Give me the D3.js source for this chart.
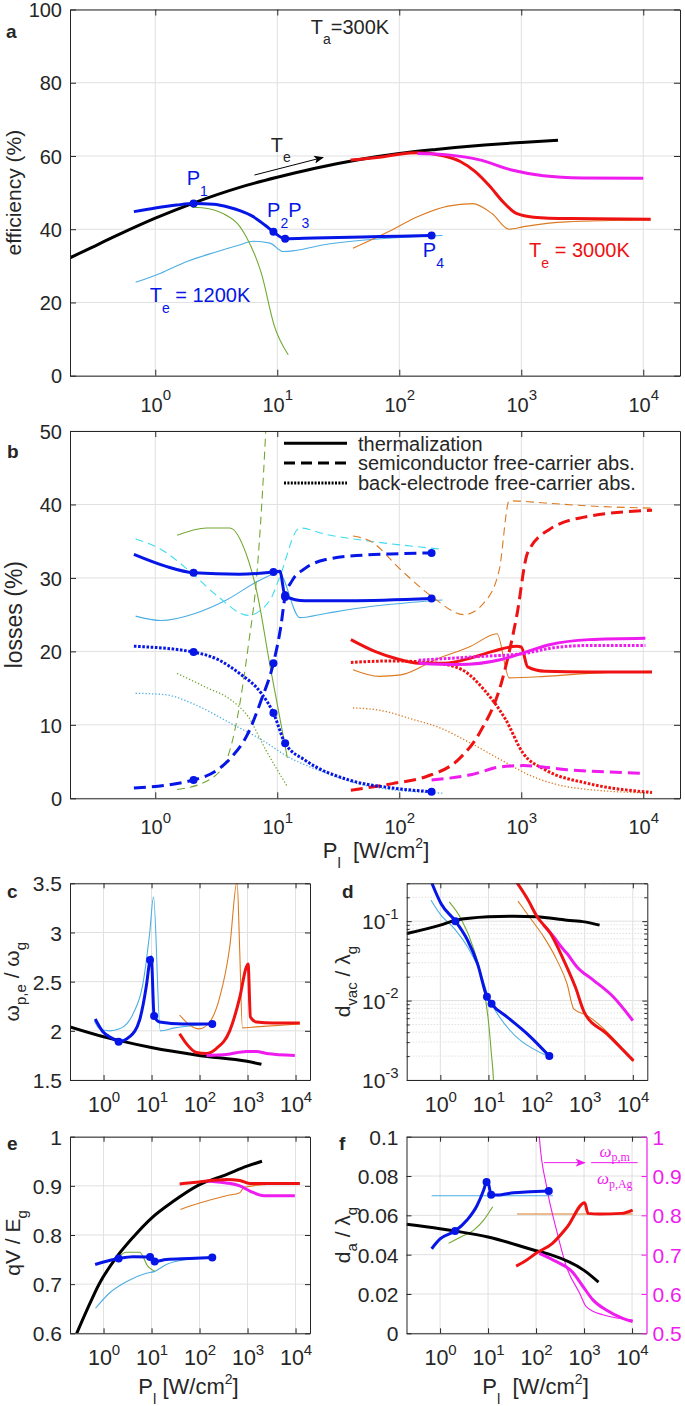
<!DOCTYPE html>
<html><head><meta charset="utf-8">
<script src="https://cdnjs.cloudflare.com/ajax/libs/d3/7.8.5/d3.min.js"></script>
<style>
body{margin:0;background:#fff;}
svg{display:block;}
</style></head><body>
<svg id="chart" width="685" height="1406"></svg>
<script>
// ================= DATA =================
const xDomain = [0.2, 20000];
const xTickVals = [1, 10, 100, 1000, 10000];
const xTickExps = ['0', '1', '2', '3', '4'];
const aYTicks = [0, 20, 40, 60, 80, 100];
const bYTicks = [0, 10, 20, 30, 40, 50];
const cYTicks = [1.5, 2, 2.5, 3, 3.5];
const dYTicks = [0.001, 0.01, 0.1];
const dYExps = ['-3', '-2', '-1'];
const eYTicks = [0.6, 0.7, 0.8, 0.9, 1];
const fYTicks = [0, 0.02, 0.04, 0.06, 0.08, 0.1];
const fY2Ticks = [0.5, 0.6, 0.7, 0.8, 0.9, 1];

// panel a : efficiency (%)
const a_black = [[0.2,32.2],[0.3,35],[0.5,38.5],[1,43],[2,47],[5,51.5],[10,54.2],[20,56.6],[50,59.2],[100,60.7],[200,61.8],[500,63],[1000,63.7],[2000,64.3]];
const a_blue = [[0.668,44.8],[1,45.8],[1.5,46.6],[2.06,47],[3,46.8],[4,46],[5,45],[6.3,43.5],[8,41],[9.3,39.3],[11.6,37.4],[20,37.6],[50,37.9],[100,38.1],[184,38.3]];
const a_blueMk = [[2.06,47],[9.3,39.3],[11.6,37.4],[184,38.3]];
const a_lightblue = [[0.69,25.5],[1.11,28],[1.82,31.2],[3.24,33.9],[4.9,35.7],[6.3,36.7],[8.7,36.2],[11.2,33.9],[14.1,34.2],[23.4,35.7],[58.9,37.2],[226,38.3]];
const a_green = [[2.0,46],[2.75,45.6],[4.0,43.4],[4.7,41.6],[5.55,38],[7.4,28],[9.5,13.4],[12.3,5.7]];
const a_red = [[40,58.9],[74,59.8],[100,60.5],[141,60.9],[234,60],[316,58.5],[417,55.8],[550,51.8],[708,47.5],[912,44.3],[1259,43.3],[2512,42.9],[11500,42.7]];
const a_magenta = [[141,60.7],[251,60.3],[447,59],[851,56.1],[1514,54.6],[3160,54],[10000,53.9]];
const a_orange = [[41.7,34.8],[87,39.8],[141,43.4],[251,46.3],[398,47],[575,44.3],[794,40],[1047,40.7],[2344,42],[11500,42.5]];

// panel b : losses (%)
const b_blueTherm = [[0.668,33.2],[1.21,31.6],[2.06,30.7],[4.9,30.5],[9.3,30.8],[10.5,30.9],[11.6,27.5],[16.9,26.9],[38.5,26.9],[184,27.2]];
const b_blueSemi = [[0.668,1.4],[2.06,2.5],[3.25,3.9],[4.16,5.5],[5.78,8.9],[7.4,13.4],[9.3,18.4],[10.7,23.4],[11.6,27.5],[13.2,29.6],[16.9,31.3],[25,32.5],[50,33.1],[100,33.3],[184,33.4]];
const b_blueBack = [[0.668,20.7],[2.06,19.9],[3.25,18.9],[4.9,17],[7.4,14.3],[9.3,11.6],[11.6,7.5],[16.9,5.2],[38.5,2.5],[87.7,1.4],[184,0.9]];
const b_blueMk = [[2.06,30.7],[9.3,30.8],[11.6,27.4],[184,27.2],[2.06,2.5],[9.3,18.4],[11.6,27.6],[184,33.4],[2.06,19.9],[9.3,11.6],[11.6,7.5],[184,0.9]];
const b_lbTherm = [[0.69,24.8],[1.11,24.2],[2.15,25.2],[3.83,27],[7.4,29.8],[10.3,30.7],[15.3,24.6],[25.5,25.2],[58,26.1],[226,27]];
const b_lbSemi = [[0.69,35.3],[1.11,33.9],[1.98,30.7],[3.25,27.5],[5.78,24.9],[8.73,27],[10.3,29.8],[15.3,36.8],[25.5,35.9],[58,35],[226,33.9]];
const b_lbBack = [[0.69,14.3],[1.21,14.1],[2.15,12.7],[4.16,10.2],[7.4,8],[12.1,5.7],[25.5,3.4],[58,1.6],[226,0.7]];
const b_grTherm = [[1.51,35.8],[2.64,36.8],[4.09,36.8],[5.55,33.3],[6.82,28],[8.73,18],[12.1,5.5]];
const b_grSemi = [[1.51,1.2],[2.75,2.5],[3.83,5.2],[4.71,11],[5.78,20.7],[6.82,30.7],[8.04,50],[8.2,53]];
const b_grBack = [[1.51,17],[2.54,15.2],[4.16,13.4],[5.78,11.1],[8.04,6.6],[12.1,1.6]];
const b_redTherm = [[40.1,21.6],[63,20],[95.3,19],[144,18.4],[236,18.4],[386,19.1],[583,20],[917,20.7],[1000,20.6],[1127,17.9],[1567,17.3],[3572,17.2],[11800,17.2]];
const b_redSemi = [[40.1,1.1],[87.7,2],[169,3],[302,5.2],[455,8.9],[687,15.7],[917,24.8],[1127,33.4],[1701,36.6],[3572,38.4],[11800,39.2]];
const b_redBack = [[40.1,18.5],[87.7,18.7],[200,18.4],[327,17.5],[494,14.8],[746,10.7],[1038,6.1],[1567,3.9],[3572,2],[11800,0.8]];
const b_magTherm = [[144,18.4],[302,18.2],[687,18.9],[1038,19.8],[1701,20.9],[3572,21.6],[10400,21.8]];
const b_magSemi = [[184,2.5],[386,3.2],[687,4.3],[1038,4.45],[2365,3.9],[10400,3.4]];
const b_magBack = [[144,18.8],[455,19.3],[1038,19.7],[1848,20.5],[3572,20.8],[10400,20.8]];
const b_orTherm = [[41.7,17.5],[68.4,16.6],[103,16.8],[200,18.9],[386,20.7],[633,22.4],[797,16.4],[1567,16.6],[3572,17],[11800,17.3]];
const b_orSemi = [[41.7,35.7],[58,35],[103,31.1],[184,27.5],[341,25],[494,26.6],[660,31.1],[797,40.5],[1567,40.2],[3572,39.8],[11800,39.5]];
const b_orBack = [[41.7,12.3],[68.4,12],[132,10.7],[200,9.8],[386,7.5],[687,5.2],[1224,3],[2789,1.4],[11800,0.7]];
const legendLabels = ['thermalization', 'semiconductor free-carrier abs.', 'back-electrode free-carrier abs.'];

// panel c : omega_pe / omega_g
const c_black = [[0.2,2.04],[1,1.94],[2.16,1.9],[9.87,1.83],[97.5,1.75],[977,1.69],[1947,1.66]];
const c_blue = [[0.67,2.12],[0.97,1.99],[1.57,1.92],[2.06,1.89],[3.49,1.94],[5.64,2.11],[7.76,2.45],[9.3,2.72],[9.87,2.75],[11.3,2.15],[14.7,2.09],[45.2,2.07],[184,2.07]];
const c_blueMk = [[2.06,1.89],[9.3,2.72],[11.3,2.15],[184,2.07]];
const c_lightblue = [[0.649,2.1],[0.826,2.02],[1.33,2.0],[2.16,2.02],[4.09,2.17],[6.62,2.48],[9.12,2.99],[11.0,3.36],[15.2,2.0],[30,2.03],[100,2.06],[191,2.07]];
const c_orange = [[38.5,2.16],[62.2,2.06],[97.5,2.02],[163,2.09],[263,2.34],[425,2.85],[605,3.52],[688,2.8],[782,2.03],[1500,2.04],[12300,2.07]];
const c_red = [[38.5,1.97],[53.1,1.87],[85.8,1.78],[139,1.77],[224,1.82],[425,2.0],[688,2.34],[946,2.65],[1026,2.68],[1148,2.14],[1531,2.09],[3410,2.08],[12300,2.08]];
const c_magenta = [[139,1.75],[362,1.76],[946,1.79],[1531,1.79],[2475,1.77],[9660,1.75]];

// panel d : d_vac / lambda_g (log)
const d_black = [[0.2,0.0698],[1,0.0891],[2.11,0.103],[10,0.1135],[33.9,0.1157],[100,0.1135],[430,0.103],[1000,0.098],[2040,0.0891]];
const d_blue = [[0.668,0.3],[1.03,0.167],[2.06,0.1],[3.68,0.0575],[5.92,0.0292],[9.3,0.0112],[11.6,0.0091],[24.6,0.0062],[64,0.00381],[184,0.002]];
const d_blueMk = [[2.06,0.1],[9.3,0.0112],[11.6,0.0091],[184,0.002]];
const d_lightblue = [[0.64,0.184],[1.03,0.119],[1.95,0.0808],[3.68,0.0474],[6.93,0.0218],[9.5,0.0122],[12.1,0.0087],[186,0.00195]];
const d_green = [[1.53,0.175],[2.68,0.108],[5.05,0.043],[8.13,0.0135],[10.3,0.00462],[11.5,0.00214],[12.7,0.001],[13,0.0007]];
const d_red = [[38.5,0.31],[64,0.193],[103,0.1135],[195,0.0698],[368,0.0321],[640,0.0148],[1000,0.00695],[2900,0.00381],[10300,0.00175]];
const d_magenta = [[141,0.089],[228,0.0634],[320,0.048],[430,0.0391],[692,0.0265],[1530,0.018],[3950,0.0111],[10000,0.0056]];
const d_orange = [[41,0.179],[75,0.108],[141,0.0634],[266,0.0321],[430,0.0163],[590,0.00788],[1110,0.0065],[10300,0.00172]];

// panel e : qV / E_g
const e_black = [[0.25,0.59],[0.435,0.644],[0.826,0.702],[1.84,0.754],[4.09,0.795],[9.87,0.834],[27.9,0.868],[97.5,0.902],[362,0.923],[977,0.94],[2000,0.95]];
const e_blue = [[0.668,0.74],[1,0.745],[2.06,0.752],[4.09,0.756],[9.3,0.755],[11.6,0.746],[20.3,0.75],[62,0.752],[184,0.754]];
const e_blueMk = [[2.06,0.752],[9.3,0.755],[11.6,0.746],[184,0.754]];
const e_lightblue = [[0.68,0.651],[1.33,0.682],[2.97,0.705],[7.76,0.722],[11.6,0.726],[20.3,0.74],[53,0.75],[191,0.754]];
const e_green = [[2.06,0.756],[2.97,0.765],[5.64,0.765],[8.4,0.736],[11.6,0.726]];
const e_red = [[38.5,0.904],[97.5,0.908],[362,0.913],[688,0.911],[1100,0.905],[2475,0.905],[12300,0.905]];
const e_magenta = [[139,0.91],[362,0.906],[688,0.9],[1150,0.889],[2200,0.88],[9660,0.88]];
const e_orange = [[40,0.852],[100,0.865],[362,0.88],[688,0.886],[850,0.897],[2475,0.903],[12300,0.906]];

// panel f : d_a / lambda_g (left) and omega_pm / omega_pAg (right)
const f_black = [[0.2,0.0555],[1,0.0532],[2.06,0.052],[10,0.049],[100,0.042],[200,0.04],[1000,0.032],[2000,0.026]];
const f_blue = [[0.668,0.043],[1,0.048],[2.06,0.052],[3.65,0.0576],[5.9,0.065],[8,0.0725],[9.3,0.077],[9.8,0.0775],[11.6,0.0705],[15.7,0.0703],[34,0.0715],[75,0.072],[184,0.0724]];
const f_blueMk = [[2.06,0.052],[9.3,0.077],[11.6,0.0705],[184,0.0724]];
const f_lightblue = [[0.668,0.07],[226,0.07]];
const f_green = [[1.51,0.0458],[2.7,0.049],[5.05,0.0525],[8.1,0.0576],[12.5,0.0644]];
const f_orange = [[40,0.0607],[10300,0.0607]];
const f_red = [[38.5,0.0342],[64,0.0373],[100,0.0407],[220,0.0458],[450,0.0542],[1030,0.0664],[1210,0.061],[2100,0.0607],[6000,0.061],[10300,0.0627]];
const f_magThick = [[117,0.703],[228,0.686],[590,0.654],[950,0.619],[1530,0.585],[2900,0.559],[6400,0.538],[10300,0.53]];
const f_magThin = [[112,1.05],[117,1.0],[166,0.873],[266,0.763],[430,0.669],[810,0.602],[1110,0.568],[2460,0.547],[10300,0.534]];

// ================= STYLE =================
const FONT = '"Liberation Sans", Arial, Helvetica, sans-serif';
const SERIF = '"Liberation Serif", "DejaVu Serif", serif';
const INK = '#262626';
const GRID = '#e0e0e0';
const BLUE = '#0616e6', RED = '#ee1212', MAG = '#ee1cee', BLACK = '#000000';
const LB = '#4caee4', CY = '#3fdcee', GR = '#72a832', OR = '#dc7a22';
const TH = 3, TN = 1.1;
const DASH_T = '12,6', DOT_T = '2.6,1.6', DASH_N = '8,5', DOT_N = '1.3,2';

const svg = d3.select('#chart').attr('font-family', FONT);
const defs = svg.append('defs');
function arrowMarker(id, color) {
  defs.append('marker').attr('id', id).attr('viewBox', '0 0 10 8').attr('refX', 9).attr('refY', 4)
    .attr('markerWidth', 10).attr('markerHeight', 8).attr('markerUnits', 'userSpaceOnUse').attr('orient', 'auto')
    .append('path').attr('d', 'M0,0 L10,4 L0,8 L2.5,4 z').attr('fill', color);
}
arrowMarker('arrK', BLACK);
arrowMarker('arrM', MAG);

// rich text: parts {t, sub, sup, size, italic, family}; sub/sup 0 or absent = normal text
function rich(sel, parts, fs) {
  let off = 0;
  parts.forEach(p => {
    const ts = sel.append('tspan').text(p.t);
    let target = 0;
    if (p.sub) target = p.sub;
    if (p.sup) target = -p.sup;
    const size = p.size || (target !== 0 ? Math.round(fs * 0.72) : fs);
    if (target - off !== 0) ts.attr('dy', target - off);
    ts.attr('font-size', size);
    if (p.italic) ts.attr('font-style', 'italic');
    if (p.family) ts.attr('font-family', p.family);
    off = target;
  });
}

let clipN = 0;
function makePanel(o) {
  const x = d3.scaleLog().domain(xDomain).range([o.L, o.R]);
  const y = (o.log ? d3.scaleLog() : d3.scaleLinear()).domain(o.yDom).range([o.B, o.T]);
  const g = svg.append('g');
  g.append('rect').attr('x', o.L).attr('y', o.T).attr('width', o.R - o.L).attr('height', o.B - o.T).attr('fill', '#fff');
  if (o.minor) {
    g.selectAll('line.mg').data(o.minor).join('line')
      .attr('x1', o.L).attr('x2', o.R).attr('y1', d => y(d)).attr('y2', d => y(d))
      .attr('stroke', '#c9c9c9').attr('stroke-width', 0.8).attr('stroke-dasharray', '1,2');
  }
  g.selectAll('line.vg').data(xTickVals).join('line')
    .attr('x1', d => x(d)).attr('x2', d => x(d)).attr('y1', o.T).attr('y2', o.B)
    .attr('stroke', GRID).attr('stroke-width', 1);
  g.selectAll('line.hg').data(o.yTicks).join('line')
    .attr('x1', o.L).attr('x2', o.R).attr('y1', d => y(d)).attr('y2', d => y(d))
    .attr('stroke', GRID).attr('stroke-width', 1);
  const id = 'clip' + (clipN++);
  defs.append('clipPath').attr('id', id).append('rect')
    .attr('x', o.L).attr('y', o.T).attr('width', o.R - o.L).attr('height', o.B - o.T);
  const gc = svg.append('g').attr('clip-path', `url(#${id})`);
  return { o, x, y, g, gc };
}

function line(p, data, color, w, dash, ys) {
  const yy = ys || p.y;
  p.gc.append('path').datum(data)
    .attr('fill', 'none').attr('stroke', color).attr('stroke-width', w)
    .attr('stroke-dasharray', dash || null).attr('stroke-linejoin', 'round')
    .attr('d', d3.line().x(d => p.x(d[0])).y(d => yy(d[1])).curve(d3.curveMonotoneX));
}
function markers(p, data) {
  p.gc.selectAll(null).data(data).join('circle')
    .attr('cx', d => p.x(d[0])).attr('cy', d => p.y(d[1])).attr('r', 4).attr('fill', BLUE);
}

function frame(p, opt) {
  const { L, R, T, B } = p.o;
  const tl = opt.tick;
  const fs = opt.fs;
  const yfs = opt.yfs || fs;
  const gb = svg.append('g').attr('transform', `translate(0,${B})`).style('color', INK)
    .call(d3.axisBottom(p.x).tickValues(xTickVals).tickSizeInner(-tl).tickSizeOuter(0).tickFormat(() => ''));
  gb.select('.domain').attr('stroke', INK);
  gb.selectAll('.tick text').attr('y', opt.xLabY).attr('dy', null)
    .attr('font-size', fs).attr('font-family', FONT).attr('fill', INK)
    .each(function (d, i) { rich(d3.select(this), [{ t: '10' }, { t: xTickExps[i], sup: opt.supRaise, size: opt.supSize }], fs); });
  const gt = svg.append('g').attr('transform', `translate(0,${T})`).style('color', INK)
    .call(d3.axisTop(p.x).tickValues(xTickVals).tickSizeInner(-tl).tickSizeOuter(0).tickFormat(() => ''));
  gt.selectAll('.tick text').remove();
  const gl = svg.append('g').attr('transform', `translate(${L},0)`).style('color', INK)
    .call(d3.axisLeft(p.y).tickValues(p.o.yTicks).tickSizeInner(-tl).tickSizeOuter(0).tickFormat(d => d3.format('~g')(d)));
  gl.selectAll('.tick text').attr('x', -8).attr('dy', null).attr('y', 0.36 * yfs)
    .attr('font-size', yfs).attr('font-family', FONT).attr('fill', INK);
  if (opt.yRich) {
    gl.selectAll('.tick text').text(null).each(function (d, i) { opt.yRich(d3.select(this), i); });
  }
  if (p.o.minor) {
    const gm = svg.append('g').attr('transform', `translate(${L},0)`).style('color', INK)
      .call(d3.axisLeft(p.y).tickValues(p.o.minor).tickSizeInner(-3).tickSizeOuter(0).tickFormat(() => ''));
    gm.select('.domain').remove(); gm.selectAll('text').remove();
    const gm2 = svg.append('g').attr('transform', `translate(${R},0)`).style('color', INK)
      .call(d3.axisRight(p.y).tickValues(p.o.minor).tickSizeInner(-3).tickSizeOuter(0).tickFormat(() => ''));
    gm2.select('.domain').remove(); gm2.selectAll('text').remove();
  }
  if (!opt.noRight) {
    const gr = svg.append('g').attr('transform', `translate(${R},0)`).style('color', INK)
      .call(d3.axisRight(p.y).tickValues(p.o.yTicks).tickSizeInner(-tl).tickSizeOuter(0).tickFormat(() => ''));
    gr.selectAll('.tick text').remove();
  }
}

// ================= PANELS =================
const PA = makePanel({ L: 70, R: 680, T: 9.5, B: 375.7, yDom: [0, 100], yTicks: aYTicks });
const PB = makePanel({ L: 70, R: 680, T: 431, B: 798.3, yDom: [0, 50], yTicks: bYTicks });
const PC = makePanel({ L: 70, R: 310, T: 883.3, B: 1080, yDom: [1.5, 3.5], yTicks: cYTicks });
const dMinor = [];
[0.001, 0.01, 0.1].forEach(b => { for (let k = 2; k <= 9; k++) { const v = +(b * k).toPrecision(3); if (v <= 0.3) dMinor.push(v); } });
const PD = makePanel({ L: 406.7, R: 647.3, T: 883.3, B: 1080, yDom: [0.001, 0.3], log: true, yTicks: dYTicks, minor: dMinor });
const PE = makePanel({ L: 70, R: 310, T: 1136.7, B: 1333.3, yDom: [0.6, 1], yTicks: eYTicks });
const PF = makePanel({ L: 406.5, R: 646.5, T: 1136.7, B: 1333.3, yDom: [0, 0.1], yTicks: fYTicks });
const fY2 = d3.scaleLinear().domain([0.5, 1]).range([PF.o.B, PF.o.T]);

// ---- panel a lines ----
line(PA, a_lightblue, LB, TN);
line(PA, a_green, GR, TN);
line(PA, a_orange, OR, TN);
line(PA, a_black, BLACK, TH);
line(PA, a_red, RED, TH);
line(PA, a_magenta, MAG, TH);
line(PA, a_blue, BLUE, TH);
markers(PA, a_blueMk);

// ---- panel b lines ----
line(PB, b_lbTherm, LB, TN);
line(PB, b_lbSemi, CY, TN, DASH_N);
line(PB, b_lbBack, LB, TN + 0.2, DOT_N);
line(PB, b_grTherm, GR, TN);
line(PB, b_grSemi, GR, TN, DASH_N);
line(PB, b_grBack, GR, TN + 0.2, DOT_N);
line(PB, b_orTherm, OR, TN);
line(PB, b_orSemi, OR, TN, DASH_N);
line(PB, b_orBack, OR, TN + 0.2, DOT_N);
line(PB, b_redSemi, RED, TH, DASH_T);
line(PB, b_redBack, RED, TH, DOT_T);
line(PB, b_redTherm, RED, TH);
line(PB, b_magSemi, MAG, TH, DASH_T);
line(PB, b_magBack, MAG, TH, DOT_T);
line(PB, b_magTherm, MAG, TH);
line(PB, b_blueSemi, BLUE, TH, DASH_T);
line(PB, b_blueBack, BLUE, TH, DOT_T);
line(PB, b_blueTherm, BLUE, TH);
markers(PB, b_blueMk);

// ---- panel c ----
line(PC, c_lightblue, LB, TN);
line(PC, c_orange, OR, TN);
line(PC, c_black, BLACK, TH);
line(PC, c_red, RED, TH);
line(PC, c_magenta, MAG, TH);
line(PC, c_blue, BLUE, TH);
markers(PC, c_blueMk);

// ---- panel d ----
line(PD, d_lightblue, LB, TN);
line(PD, d_green, GR, TN);
line(PD, d_orange, OR, TN);
line(PD, d_black, BLACK, TH);
line(PD, d_magenta, MAG, TH);
line(PD, d_red, RED, TH);
line(PD, d_blue, BLUE, TH);
markers(PD, d_blueMk);

// ---- panel e ----
line(PE, e_lightblue, LB, TN);
line(PE, e_green, GR, TN);
line(PE, e_orange, OR, TN);
line(PE, e_black, BLACK, TH);
line(PE, e_magenta, MAG, TH);
line(PE, e_red, RED, TH);
line(PE, e_blue, BLUE, TH);
markers(PE, e_blueMk);

// ---- panel f ----
line(PF, f_lightblue, LB, TN);
line(PF, f_orange, OR, TN);
line(PF, f_green, GR, TN);
line(PF, f_magThin, MAG, TN, null, fY2);
line(PF, f_black, BLACK, TH);
line(PF, f_red, RED, TH);
line(PF, f_magThick, MAG, TH, null, fY2);
line(PF, f_blue, BLUE, TH);
markers(PF, f_blueMk);

// ================= FRAMES / AXES =================
const bigOpt = { tick: 6, fs: 20, xLabY: 36, supRaise: 11.5, supSize: 15 };
const smallOpt = { tick: 5, fs: 21.5, yfs: 21, xLabY: 32, supRaise: 10.5, supSize: 15 };
frame(PA, bigOpt);
frame(PB, bigOpt);
frame(PC, Object.assign({}, smallOpt));
frame(PD, Object.assign({}, smallOpt, {
  yRich: (sel, i) => rich(sel, [{ t: '10' }, { t: dYExps[i], sup: 10.5, size: 15 }], 21)
}));
frame(PE, Object.assign({}, smallOpt));
frame(PF, Object.assign({}, smallOpt, { noRight: true }));
{
  const gr = svg.append('g').attr('transform', `translate(${PF.o.R},0)`).style('color', MAG)
    .call(d3.axisRight(fY2).tickValues(fY2Ticks).tickSizeInner(-5).tickSizeOuter(0).tickFormat(d => d3.format('~g')(d)));
  gr.select('.domain').attr('stroke', MAG).attr('stroke-width', 1.2);
  gr.selectAll('.tick text').attr('x', 6).attr('dy', null).attr('y', 0.36 * 21)
    .attr('font-size', 21).attr('font-family', FONT).attr('fill', MAG);
}

// ================= TEXT =================
function label(x, y, txt, fs, opts) {
  opts = opts || {};
  const t = svg.append('text').attr('x', x).attr('y', y).attr('font-size', fs)
    .attr('fill', opts.color || INK).attr('text-anchor', opts.anchor || 'start')
    .attr('font-weight', opts.bold ? 'bold' : null);
  if (opts.rotate) t.attr('transform', `rotate(-90,${x},${y})`);
  if (Array.isArray(txt)) rich(t, txt, fs); else t.text(txt);
  return t;
}

label(6, 38, 'a', 19, { bold: true });
label(7, 458, 'b', 19, { bold: true });
label(7, 898, 'c', 19, { bold: true });
label(342, 898, 'd', 19, { bold: true });
label(7, 1150, 'e', 19, { bold: true });
label(339, 1150, 'f', 19, { bold: true });

label(21, (PA.o.T + PA.o.B) / 2, 'efficiency (%)', 21, { rotate: true, anchor: 'middle' });
label(22, (PB.o.T + PB.o.B) / 2, 'losses (%)', 23, { rotate: true, anchor: 'middle' });
label(19, (PC.o.T + PC.o.B) / 2, [{ t: 'ω' }, { t: 'p,e', sub: 7, size: 15 }, { t: ' / ω' }, { t: 'g', sub: 7, size: 15 }], 21, { rotate: true, anchor: 'middle' });
label(350, (PD.o.T + PD.o.B) / 2, [{ t: 'd' }, { t: 'vac', sub: 7, size: 15 }, { t: ' / λ' }, { t: 'g', sub: 7, size: 15 }], 21, { rotate: true, anchor: 'middle' });
label(20, 1243, [{ t: 'qV / E' }, { t: 'g', sub: 7, size: 15 }], 21, { rotate: true, anchor: 'middle' });
label(350, (PF.o.T + PF.o.B) / 2, [{ t: 'd' }, { t: 'a', sub: 7, size: 15 }, { t: ' / λ' }, { t: 'g', sub: 7, size: 15 }], 21, { rotate: true, anchor: 'middle' });

const xl = (gap) => [{ t: 'P' }, { t: 'l', sub: 10, size: 15 }, { t: gap + '[W/cm' }, { t: '2', sup: 10, size: 14 }, { t: ']' }];
label(376, 858, xl('\u00a0\u00a0'), 22, { anchor: 'middle' });
label(188.5, 1394, xl('\u00a0'), 22, { anchor: 'middle' });
label(535.5, 1394, xl('\u00a0\u00a0'), 22, { anchor: 'middle' });

// panel a annotations (data coordinates)
label(PA.x(18.8), PA.y(93.2), [{ t: 'T' }, { t: 'a', sub: 10, size: 14 }, { t: '=300K' }], 20);
label(PA.x(1.81), PA.y(52.1), [{ t: 'P' }, { t: '1', sub: 11, size: 14 }], 20, { color: BLUE });
label(PA.x(8.25), PA.y(43.3), [{ t: 'P' }, { t: '2', sub: 11, size: 14 }, { t: 'P' }, { t: '3', sub: 11, size: 14 }], 20, { color: BLUE });
label(PA.x(156), PA.y(32.4), [{ t: 'P' }, { t: '4', sub: 11, size: 14 }], 20, { color: BLUE });
label(PA.x(0.9), PA.y(20.2), [{ t: 'T' }, { t: 'e', sub: 11, size: 14 }, { t: ' = 1200K' }], 20, { color: BLUE });
label(PA.x(1159), PA.y(32.4), [{ t: 'T' }, { t: 'e', sub: 11, size: 14 }, { t: ' = 3000K' }], 20, { color: RED });
label(PA.x(8.83), PA.y(61.1), [{ t: 'T' }, { t: 'e', sub: 10, size: 14 }], 20);
svg.append('line').attr('x1', PA.x(6.5)).attr('y1', PA.y(54.8)).attr('x2', PA.x(23.7)).attr('y2', PA.y(59.6))
  .attr('stroke', BLACK).attr('stroke-width', 1).attr('marker-end', 'url(#arrK)');

// panel b legend
const legStyles = [null, '11,6', '2,1.4'];
legendLabels.forEach((t, i) => {
  const ly = 443.3 + i * 19.8;
  svg.append('line').attr('x1', 284).attr('x2', 347).attr('y1', ly).attr('y2', ly)
    .attr('stroke', BLACK).attr('stroke-width', 3).attr('stroke-dasharray', legStyles[i]);
  label(358, ly + 7.3, t, 20);
});

// panel f annotation
svg.append('line').attr('x1', PF.x(147)).attr('y1', fY2(0.934)).attr('x2', PF.x(1030)).attr('y2', fY2(0.934))
  .attr('stroke', MAG).attr('stroke-width', 1).attr('marker-end', 'url(#arrM)');
svg.append('line').attr('x1', PF.x(1406)).attr('x2', PF.x(13090)).attr('y1', fY2(0.934)).attr('y2', fY2(0.934))
  .attr('stroke', MAG).attr('stroke-width', 1);
{
  const cx = PF.x(4365);
  const t1 = svg.append('text').attr('x', cx).attr('y', fY2(0.948)).attr('text-anchor', 'middle')
    .attr('font-family', SERIF).attr('fill', MAG).attr('font-size', 17);
  rich(t1, [{ t: 'ω', italic: true }, { t: 'p,m', sub: 4, size: 12 }], 17);
  const t2 = svg.append('text').attr('x', cx).attr('y', fY2(0.88)).attr('text-anchor', 'middle')
    .attr('font-family', SERIF).attr('fill', MAG).attr('font-size', 17);
  rich(t2, [{ t: 'ω', italic: true }, { t: 'p,Ag', sub: 4, size: 12 }], 17);
}
</script>
</body></html>
